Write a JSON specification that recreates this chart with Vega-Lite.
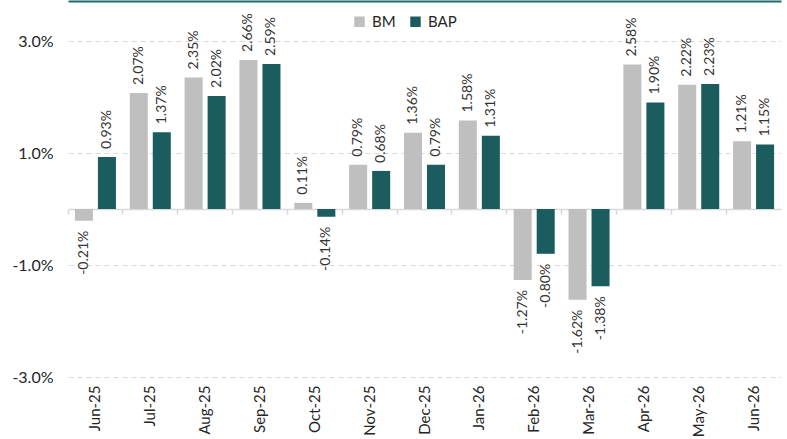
{
  "$schema": "https://vega.github.io/schema/vega-lite/v6.json",
  "width": 713,
  "height": 336,
  "padding": {"left": 11, "top": 1, "right": 8, "bottom": 0},
  "config": {"view": {"stroke": null}, "font": "Lato"},
  "data": {
    "values": [
      {"month": "Jun-25", "series": "BM", "v": -0.0021},
      {"month": "Jun-25", "series": "BAP", "v": 0.0093},
      {"month": "Jul-25", "series": "BM", "v": 0.0207},
      {"month": "Jul-25", "series": "BAP", "v": 0.0137},
      {"month": "Aug-25", "series": "BM", "v": 0.0235},
      {"month": "Aug-25", "series": "BAP", "v": 0.0202},
      {"month": "Sep-25", "series": "BM", "v": 0.0266},
      {"month": "Sep-25", "series": "BAP", "v": 0.0259},
      {"month": "Oct-25", "series": "BM", "v": 0.0011},
      {"month": "Oct-25", "series": "BAP", "v": -0.0014},
      {"month": "Nov-25", "series": "BM", "v": 0.0079},
      {"month": "Nov-25", "series": "BAP", "v": 0.0068},
      {"month": "Dec-25", "series": "BM", "v": 0.0136},
      {"month": "Dec-25", "series": "BAP", "v": 0.0079},
      {"month": "Jan-26", "series": "BM", "v": 0.0158},
      {"month": "Jan-26", "series": "BAP", "v": 0.0131},
      {"month": "Feb-26", "series": "BM", "v": -0.0127},
      {"month": "Feb-26", "series": "BAP", "v": -0.0080},
      {"month": "Mar-26", "series": "BM", "v": -0.0162},
      {"month": "Mar-26", "series": "BAP", "v": -0.0138},
      {"month": "Apr-26", "series": "BM", "v": 0.0258},
      {"month": "Apr-26", "series": "BAP", "v": 0.0190},
      {"month": "May-26", "series": "BM", "v": 0.0222},
      {"month": "May-26", "series": "BAP", "v": 0.0223},
      {"month": "Jun-26", "series": "BM", "v": 0.0121},
      {"month": "Jun-26", "series": "BAP", "v": 0.0115}
    ]
  },
  "resolve": {"axis": {"x": "independent"}},
  "layer": [
    {
      "mark": {"type": "bar"},
      "encoding": {
        "x": {
          "field": "month", "type": "nominal", "sort": null,
          "scale": {"paddingInner": 0, "paddingOuter": 0},
          "axis": {"orient": "bottom", "domain": false, "ticks": false, "labelAngle": -90, "labelFont": "Lato", "labelFontSize": 15, "labelColor": "#262626", "labelPadding": 8, "title": null}
        },
        "xOffset": {"field": "series", "sort": ["BM", "BAP"], "scale": {"paddingInner": 0.217, "paddingOuter": 0.3}},
        "y": {
          "field": "v", "type": "quantitative",
          "scale": {"domain": [-0.03, 0.03], "nice": false, "zero": false},
          "axis": {"values": [-0.03, -0.01, 0.01, 0.03], "labelExpr": "replace(format(datum.value, '.1%'), '\u2212', '-')", "grid": true, "gridDash": [5, 4], "gridColor": "#d9d9d9", "domain": false, "ticks": false, "labelPadding": 15, "labelFontSize": 16, "labelColor": "#262626", "labelFont": "Lato", "title": null}
        },
        "color": {
          "field": "series", "type": "nominal",
          "scale": {"domain": ["BM", "BAP"], "range": ["#bfbfbf", "#1b5c5e"]},
          "legend": {"orient": "none", "legendX": 284, "legendY": -27, "direction": "horizontal", "title": null, "symbolType": "square", "symbolSize": 110, "symbolStrokeWidth": 0, "labelFontSize": 15, "labelColor": "#262626", "labelFont": "Lato", "columnPadding": 12, "labelOffset": 5}
        }
      }
    },
    {
      "transform": [{"filter": "datum.v >= 0"}],
      "mark": {"type": "text", "angle": 270, "align": "left", "baseline": "middle", "dx": 8, "fontSize": 14, "font": "Lato", "color": "#333333", "text": {"expr": "replace(format(datum.v, '.2%'), '\u2212', '-')"}},
      "encoding": {
        "x": {
          "field": "month", "type": "nominal", "sort": null,
          "axis": {"orient": "bottom", "offset": -168, "labels": false, "ticks": true, "tickSize": 5, "tickColor": "#d9d9d9", "tickWidth": 1.5, "domainColor": "#d9d9d9", "domainWidth": 1.5, "bandPosition": 0, "title": null, "grid": false}
        },
        "xOffset": {"field": "series", "sort": ["BM", "BAP"]},
        "y": {"field": "v", "type": "quantitative"}
      }
    },
    {
      "transform": [{"filter": "datum.v < 0"}],
      "mark": {"type": "text", "angle": 270, "align": "right", "baseline": "middle", "dx": -10, "fontSize": 14, "font": "Lato", "color": "#333333", "text": {"expr": "replace(format(datum.v, '.2%'), '\u2212', '-')"}},
      "encoding": {
        "x": {
          "field": "month", "type": "nominal", "sort": null,
          "axis": {"orient": "top", "offset": 40, "labels": false, "ticks": false, "domainColor": "#1d6b6d", "domainWidth": 2, "title": null, "grid": false}
        },
        "xOffset": {"field": "series", "sort": ["BM", "BAP"]},
        "y": {"field": "v", "type": "quantitative"}
      }
    }
  ]
}
